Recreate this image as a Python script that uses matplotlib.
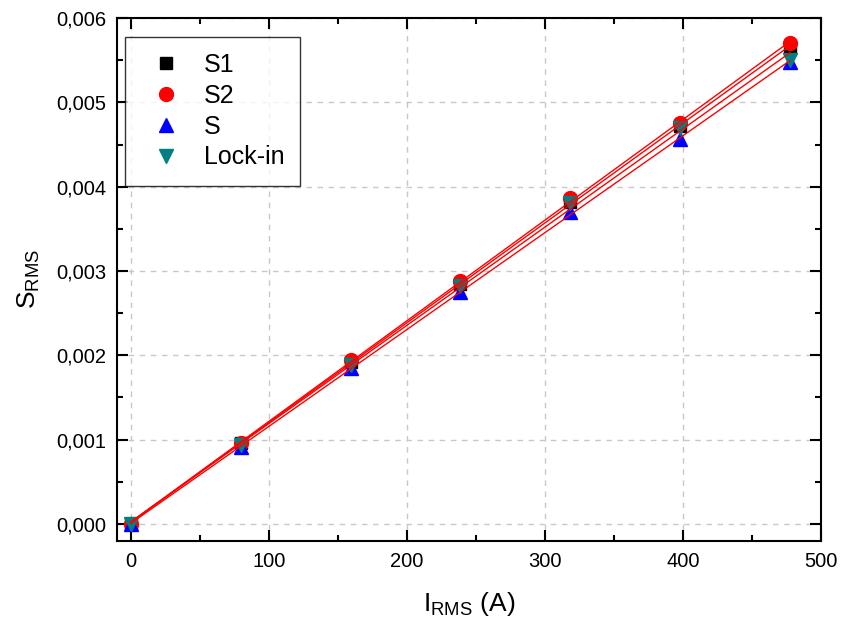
import numpy as np
import matplotlib
matplotlib.use("Agg")
import matplotlib.pyplot as plt
from matplotlib.ticker import FuncFormatter, MultipleLocator

plt.rcParams['font.family'] = ['Liberation Sans', 'DejaVu Sans']
plt.rcParams['mathtext.fontset'] = 'custom'
plt.rcParams['mathtext.rm'] = 'Liberation Sans'
plt.rcParams['mathtext.it'] = 'Liberation Sans'

# data
current = [0, 79.6, 159.2, 238.8, 318.4, 398.0, 477.5]
s1 = [0, 0.000955, 0.00192, 0.00285, 0.00382, 0.00472, 0.00565]
s2 = [0, 0.000965, 0.00194, 0.00288, 0.00387, 0.00475, 0.00570]
s = [0, 0.00091, 0.00185, 0.00275, 0.00370, 0.00457, 0.00548]
lockin = [0, 0.00093, 0.00189, 0.00282, 0.00381, 0.00470, 0.00550]

fig = plt.figure(figsize=(8.42, 6.23), dpi=100)
ax = fig.add_axes([0.139, 0.132, 0.836, 0.839])

ax.plot(current, s1, 's', color='black', ms=8, label='S1', zorder=3)
ax.plot(current, s2, 'o', color='red', ms=10, label='S2', zorder=3)
ax.plot(current, s, '^', color='blue', ms=10, label='S', zorder=3)
ax.plot(current, lockin, 'v', color='#008080', ms=10, label='Lock-in', zorder=3)

# linear fits
x = np.array(current)
for series in [s1, s2, s, lockin]:
    k, b = np.polyfit(x, series, 1)
    ax.plot(x, k * x + b, color='red', lw=1, zorder=4)

ax.set_xlim(-10, 500)
ax.set_ylim(-0.0002, 0.006)
ax.xaxis.set_major_locator(MultipleLocator(100))
ax.xaxis.set_minor_locator(MultipleLocator(50))
ax.yaxis.set_major_locator(MultipleLocator(0.001))
ax.yaxis.set_minor_locator(MultipleLocator(0.0005))
ax.yaxis.set_major_formatter(FuncFormatter(lambda v, p: f"{v:.3f}".replace('.', ',')))

ax.tick_params(which='both', direction='in', top=True, right=True, labelsize=14.5, width=1.5)
ax.tick_params(which='major', length=8, pad=8)
ax.tick_params(which='minor', length=4)
for sp in ax.spines.values():
    sp.set_linewidth(1.5)

ax.grid(True, which='major', color='#c8c8c8', linestyle=(0, (4, 4)), lw=1)
ax.set_axisbelow(True)

ax.set_xlabel(r'I$_{\mathrm{RMS}}$ (A)', fontsize=19, labelpad=14)
ax.set_ylabel(r'S$_{\mathrm{RMS}}$', fontsize=19, labelpad=10)

leg = ax.legend(loc='upper left', fontsize=18, frameon=True, fancybox=False,
                edgecolor='black', handletextpad=0.5, borderpad=0.65,
                labelspacing=0.27, borderaxespad=0, bbox_to_anchor=(0.011, 0.964))
leg.get_frame().set_linewidth(1)

plt.savefig('out.png', dpi=100)
